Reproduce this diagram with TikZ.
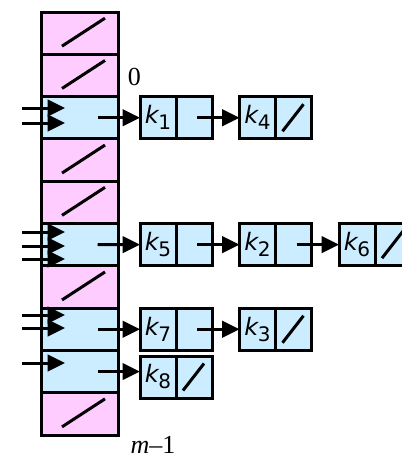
\documentclass[tikz,border=0pt]{standalone}
\usepackage{fontspec}
\setmainfont{Liberation Serif}
\newfontfamily\keyfont{DejaVu Sans}
\usetikzlibrary{arrows.meta}
\definecolor{pinkcell}{RGB}{255,204,255}
\definecolor{bluecell}{RGB}{204,236,255}
\newcommand\kk[1]{\textit{k}\kern-1pt\raisebox{-6pt}{\fontsize{20}{20}\selectfont #1}}
\begin{document}
\begin{tikzpicture}[x=1pt,y=-1pt,line width=3pt,
  cell/.style={draw,rectangle,minimum width=77pt,minimum height=42.3pt,inner sep=0pt,outer sep=0pt},
  emptycell/.style={cell,fill=pinkcell},
  fullcell/.style={cell,fill=bluecell},
  half/.style={draw,fill=bluecell,rectangle,minimum width=36pt,minimum height=42pt,inner sep=0pt,outer sep=0pt,font=\keyfont\fontsize{24}{28}\selectfont},
  arr/.style={-{Triangle[length=17.5pt,width=16.5pt]},line width=3pt},
  lab/.style={font=\fontsize{26}{30}\selectfont,inner sep=0pt}
]
\clip (0,0) rectangle (402,459);
% hash table
\foreach \i/\st in {0/emptycell,1/emptycell,2/fullcell,3/emptycell,4/emptycell,5/fullcell,6/emptycell,7/fullcell,8/fullcell,9/emptycell}
  \node[\st] (t\i) at (79.5,{12+42.3*(\i+0.5)}) {};
\foreach \i in {0,1,3,4,6,9}
  \draw ([shift={(-17.5,13)}]t\i.center) -- ++(43,-28);
% list elements
\node[half] (k1) at (158,117.75) {\kk{1}};
\node[half] (p1) at (194,117.75) {};
\node[half] (k4) at (257.5,117.75) {\kk{4}};
\node[half] (p4) at (293.5,117.75) {};
\node[half] (k5) at (158,244.65) {\kk{5}};
\node[half] (p5) at (194,244.65) {};
\node[half] (k2) at (257.5,244.65) {\kk{2}};
\node[half] (p2) at (293.5,244.65) {};
\node[half] (k6) at (357,244.65) {\kk{6}};
\node[half] (p6) at (393,244.65) {};
\node[half] (k7) at (158,329.25) {\kk{7}};
\node[half] (p7) at (194,329.25) {};
\node[half] (k3) at (257.5,329.25) {\kk{3}};
\node[half] (p3) at (293.5,329.25) {};
\node[half] (k8) at (158,377) {\kk{8}};
\node[half] (p8) at (194,377) {};
\foreach \p in {p4,p6,p3,p8}
  \draw ([shift={(-11,13.5)}]\p.center) -- ++(21,-27);
% table to lists
\draw[arr] ([xshift=18pt]t2.center) -- (k1.west);
\draw[arr] ([xshift=18pt]t5.center) -- (k5.west);
\draw[arr] ([xshift=18pt]t7.center) -- (k7.west);
\draw[arr] ([xshift=18pt]t8.center) -- (t8.center -| k8.west);
% list links
\draw[arr] ([xshift=3pt]p1.center) -- (k4.west);
\draw[arr] ([xshift=3pt]p5.center) -- (k2.west);
\draw[arr] ([xshift=3pt]p2.center) -- (k6.west);
\draw[arr] ([xshift=3pt]p7.center) -- (k3.west);
% incoming pointers
\foreach \n/\y in {a/108,b/123,c/232,d/246,e/259,f/315,g/328,h/363} {
  \coordinate (s\n) at (22,\y);
  \coordinate (e\n) at (65,\y);
  \draw[arr] (s\n) -- (e\n);
}
% labels
\node[lab,anchor=base] (zero) at (134.5,85) {0};
\node[lab,anchor=base] (mlast) at (153,453) {\textit{m}–1};
\end{tikzpicture}
\end{document}
